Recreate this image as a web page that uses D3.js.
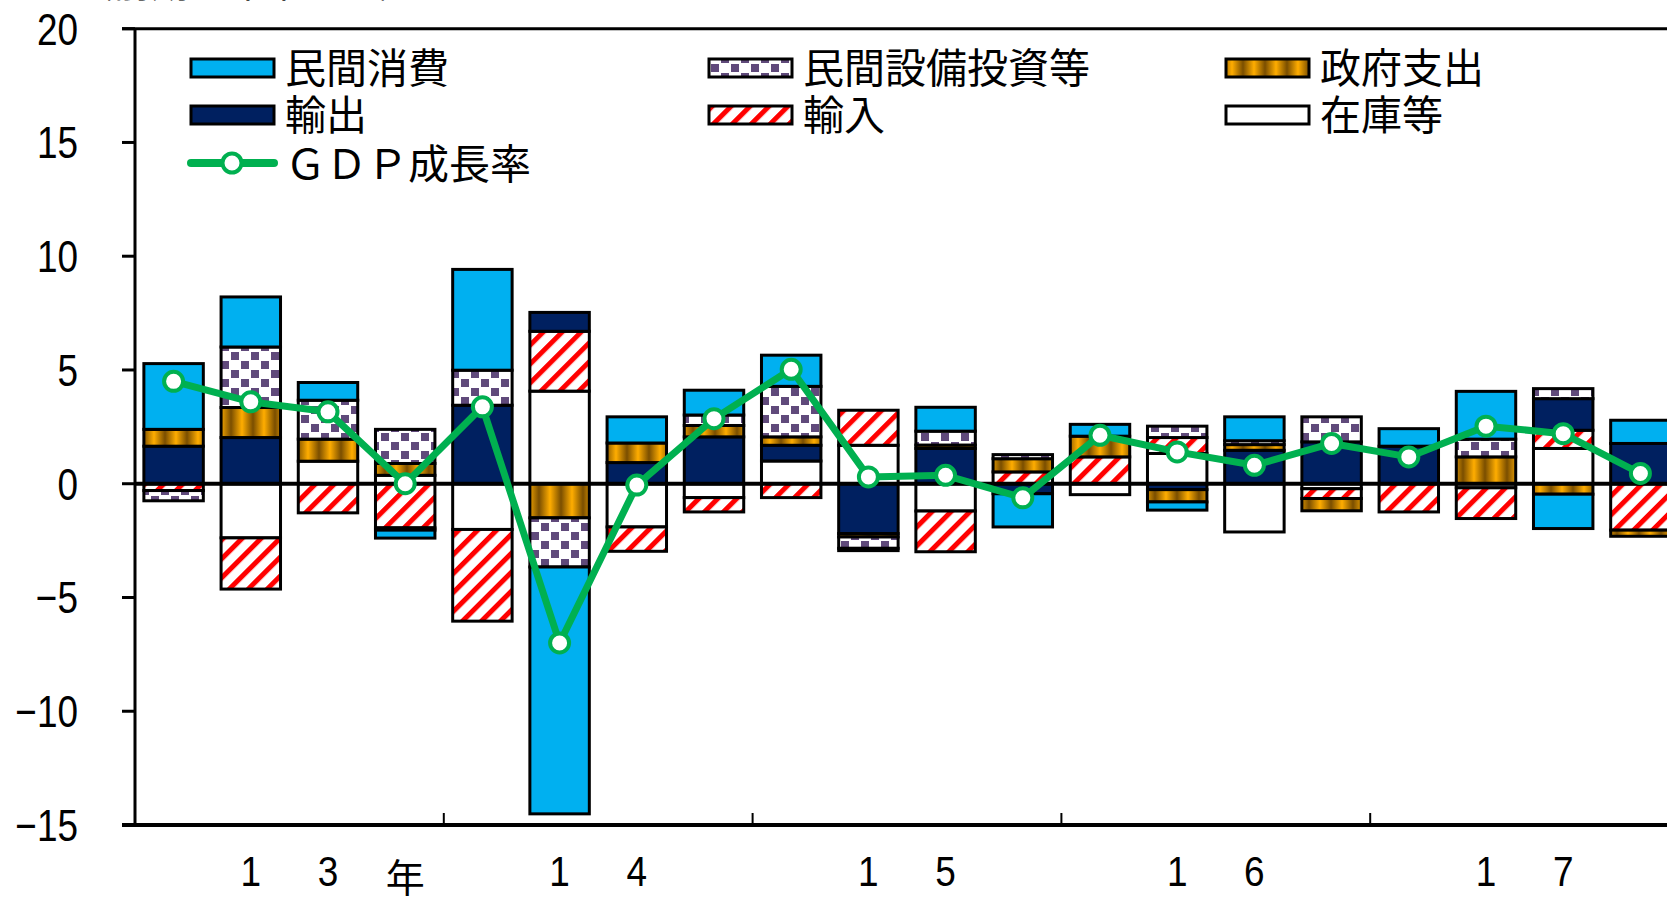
<!DOCTYPE html>
<html>
<head>
<meta charset="utf-8">
<script src="https://cdn.jsdelivr.net/npm/d3@7"></script>
<style>
body { margin: 0; background: #fff; }
svg { display: block; }
</style>
</head>
<body>
<svg></svg>
<script>
// 四半期（2013Q1〜2017Q4）
var quarters = ['13Q1', '13Q2', '13Q3', '13Q4', '14Q1', '14Q2', '14Q3', '14Q4',
    '15Q1', '15Q2', '15Q3', '15Q4', '16Q1', '16Q2', '16Q3', '16Q4',
    '17Q1', '17Q2', '17Q3', '17Q4'];

// 寄与度（％ポイント）
var shohi = [2.89, 2.2, 0.78, -0.35, 4.43, -10.85, 1.15, 1.09, 1.37, -0.1,
    1.05, -1.46, 0.52, -0.36, 1.05, 0, 0.77, 2.1, -1.51, 1.02];
var setsubi = [-0.45, 2.66, 1.71, 1.5, 1.54, -2.16, 0, 0.46, 2.22, -0.5,
    0.61, 0.18, 0, 0.5, 0.17, 1.1, 0, 0.78, 0.44, 0];
var seifu = [0.74, 1.32, 0.97, 0.52, 0, -1.5, 0.86, 0.5, 0.37, -0.15,
    0.15, 0.58, 0.91, -0.54, 0.25, -0.54, 0, 1.18, -0.46, -0.27];
var yushutsu = [1.65, 2.03, 0, -0.1, 3.45, 0.83, 0.93, 2.06, 0.69, -2.19,
    1.55, -0.44, 0, -0.26, 1.47, 1.84, 1.65, 0, 1.39, 1.77];
var yunyu = [-0.3, -2.25, -1.28, -1.94, -4.03, 2.63, -1.07, -0.63, -0.61, 1.54,
    -1.79, 0.52, 1.18, 0.7, 0, -0.43, -1.24, -1.35, 0.8, -2.04];
var zaiko = [0, -2.38, 0.99, 0.37, -2.01, 4.07, -1.9, -0.61, 1.0, 1.69,
    -1.2, 0, -0.48, 1.33, -2.12, -0.22, 0, -0.18, 1.55, 0];
var gdp = [4.5, 3.6, 3.16, 0.0, 3.38, -7.0, -0.06, 2.86, 5.03, 0.3,
    0.37, -0.62, 2.13, 1.4, 0.81, 1.77, 1.18, 2.53, 2.2, 0.45];

var yTicks = [-15, -10, -5, 0, 5, 10, 15, 20];
var yearLabels = [['1', '3', '年'], ['1', '4'], ['1', '5'], ['1', '6'], ['1', '7']];

// 積み上げ順（ゼロ側から）
var keys = ['在庫等', '輸入', '輸出', '政府支出', '民間設備投資等', '民間消費'];
var values = {
    '在庫等': zaiko, '輸入': yunyu, '輸出': yushutsu,
    '政府支出': seifu, '民間設備投資等': setsubi, '民間消費': shohi
};
var fills = {
    '民間消費': '#00B0F0',
    '民間設備投資等': 'url(#pat-dots)',
    '政府支出': 'url(#pat-gold)',
    '輸出': '#002060',
    '輸入': 'url(#pat-red)',
    '在庫等': '#ffffff'
};

var rows = quarters.map(function(q, i) {
    var r = { q: q };
    keys.forEach(function(k) { r[k] = values[k][i]; });
    return r;
});

var w = 1667, h = 900;
var left = 135, step = 77.2;

var svg = d3.select('svg')
    .attr('width', w)
    .attr('height', h);

// パターン
var defs = svg.append('defs');

var dots = defs.append('pattern')
    .attr('id', 'pat-dots')
    .attr('patternUnits', 'userSpaceOnUse')
    .attr('width', 20).attr('height', 18);
dots.append('rect').attr('width', 20).attr('height', 18).attr('fill', '#fff');
dots.append('rect').attr('x', 1).attr('y', 1).attr('width', 8).attr('height', 8).attr('fill', '#604A7B');
dots.append('rect').attr('x', 11).attr('y', 10).attr('width', 8).attr('height', 8).attr('fill', '#604A7B');

var grad = defs.append('linearGradient')
    .attr('id', 'grad-gold')
    .attr('x1', 0).attr('x2', 1).attr('y1', 0).attr('y2', 0);
grad.append('stop').attr('offset', 0).attr('stop-color', '#ffad00');
grad.append('stop').attr('offset', 0.5).attr('stop-color', '#7a4e00');
grad.append('stop').attr('offset', 1).attr('stop-color', '#ffad00');
var gold = defs.append('pattern')
    .attr('id', 'pat-gold')
    .attr('patternUnits', 'userSpaceOnUse')
    .attr('width', 22).attr('height', 10);
gold.append('rect').attr('width', 22).attr('height', 10).attr('fill', 'url(#grad-gold)');

var red = defs.append('pattern')
    .attr('id', 'pat-red')
    .attr('patternUnits', 'userSpaceOnUse')
    .attr('width', 13.4).attr('height', 13.4)
    .attr('patternTransform', 'rotate(45)');
red.append('rect').attr('width', 13.4).attr('height', 13.4).attr('fill', '#fff');
red.append('rect').attr('width', 5).attr('height', 13.4).attr('fill', '#FF0000');

// スケール
var xScale = d3.scaleBand()
    .domain(quarters)
    .range([left, left + step * quarters.length])
    .paddingInner(0.23)
    .paddingOuter(0.115);
var yScale = d3.scaleLinear()
    .domain([-15, 20])
    .range([825, 28.7]);

var stack = d3.stack()
    .keys(keys)
    .offset(d3.stackOffsetDiverging)(rows);

// 棒
svg.append('g').selectAll('g')
    .data(stack)
    .enter()
    .append('g')
    .attr('fill', function(d) { return fills[d.key]; })
    .selectAll('rect')
    .data(function(d) { return d.filter(function(p) { return p[1] - p[0] !== 0; }); })
    .enter()
    .append('rect')
    .attr('x', function(d) { return xScale(d.data.q); })
    .attr('y', function(d) { return yScale(Math.max(d[0], d[1])); })
    .attr('width', xScale.bandwidth())
    .attr('height', function(d) { return Math.abs(yScale(d[0]) - yScale(d[1])); })
    .attr('stroke', '#000')
    .attr('stroke-width', 3);

// 軸
var axis = svg.append('g').attr('stroke', '#000');
axis.append('line')
    .attr('x1', left).attr('x2', w)
    .attr('y1', yScale(0)).attr('y2', yScale(0))
    .attr('stroke-width', 4);
axis.append('line')
    .attr('x1', left).attr('x2', left)
    .attr('y1', yScale(20)).attr('y2', yScale(-15))
    .attr('stroke-width', 3);
axis.append('line')
    .attr('x1', 122).attr('x2', w)
    .attr('y1', yScale(20)).attr('y2', yScale(20))
    .attr('stroke-width', 3);
axis.append('line')
    .attr('x1', 122).attr('x2', w)
    .attr('y1', yScale(-15)).attr('y2', yScale(-15))
    .attr('stroke-width', 4);
axis.selectAll('.ytick')
    .data(yTicks)
    .enter()
    .append('line')
    .attr('x1', 122).attr('x2', left)
    .attr('y1', function(d) { return yScale(d); })
    .attr('y2', function(d) { return yScale(d); })
    .attr('stroke-width', 3);
axis.selectAll('.xtick')
    .data([4, 8, 12, 16])
    .enter()
    .append('line')
    .attr('x1', function(d) { return left + xScale.step() * d; })
    .attr('x2', function(d) { return left + xScale.step() * d; })
    .attr('y1', yScale(-15))
    .attr('y2', yScale(-15) - 12)
    .attr('stroke-width', 2);

svg.append('g').selectAll('text')
    .data(yTicks)
    .enter()
    .append('text')
    .attr('transform', function(d) { return 'translate(78,' + (yScale(d) + 16) + ') scale(0.84,1)'; })
    .attr('text-anchor', 'end')
    .attr('font-family', 'Liberation Sans, Arial, sans-serif')
    .attr('font-size', 44)
    .text(function(d) { return d < 0 ? '\u2212' + Math.abs(d) : d; });

// 年ラベル
var xl = [];
yearLabels.forEach(function(chars, i) {
    chars.forEach(function(c, j) {
        xl.push({ c: c, q: quarters[i * 4 + 1 + j] });
    });
});
svg.append('g').selectAll('text')
    .data(xl)
    .enter()
    .append('text')
    .attr('transform', function(d) {
        var cx = xScale(d.q) + xScale.bandwidth() / 2;
        return d.c === '年' ? 'translate(' + cx + ',892)' : 'translate(' + cx + ',886) scale(0.88,1)';
    })
    .attr('text-anchor', 'middle')
    .attr('font-family', function(d) {
        return d.c === '年' ? 'Noto Sans CJK JP, sans-serif' : 'Liberation Sans, Arial, sans-serif';
    })
    .attr('font-size', function(d) { return d.c === '年' ? 39 : 42; })
    .text(function(d) { return d.c; });

// GDP成長率
var line = d3.line()
    .x(function(d, i) { return xScale(quarters[i]) + xScale.bandwidth() / 2; })
    .y(function(d) { return yScale(d); });
svg.append('path')
    .datum(gdp)
    .attr('d', line)
    .attr('fill', 'none')
    .attr('stroke', '#00B050')
    .attr('stroke-width', 7)
    .attr('stroke-linejoin', 'round');
svg.append('g').selectAll('circle')
    .data(gdp)
    .enter()
    .append('circle')
    .attr('cx', function(d, i) { return xScale(quarters[i]) + xScale.bandwidth() / 2; })
    .attr('cy', function(d) { return yScale(d); })
    .attr('r', 9.5)
    .attr('fill', '#fff')
    .attr('stroke', '#00B050')
    .attr('stroke-width', 4);

// 凡例
var legendItems = [
    { name: '民間消費', x: 191, y: 68 },
    { name: '民間設備投資等', x: 709, y: 68 },
    { name: '政府支出', x: 1226, y: 68 },
    { name: '輸出', x: 191, y: 115 },
    { name: '輸入', x: 709, y: 115 },
    { name: '在庫等', x: 1226, y: 115 }
];
var legend = svg.append('g');
legend.selectAll('rect')
    .data(legendItems)
    .enter()
    .append('rect')
    .attr('x', function(d) { return d.x; })
    .attr('y', function(d) { return d.y - 9; })
    .attr('width', 83)
    .attr('height', 18)
    .attr('fill', function(d) { return fills[d.name]; })
    .attr('stroke', '#000')
    .attr('stroke-width', 3);
legend.selectAll('text')
    .data(legendItems)
    .enter()
    .append('text')
    .attr('x', function(d) { return d.x + 94; })
    .attr('y', function(d) { return d.y - 3; })
    .attr('dominant-baseline', 'central')
    .attr('font-family', 'Noto Sans CJK JP, sans-serif')
    .attr('font-size', 41)
    .text(function(d) { return d.name; });

legend.append('line')
    .attr('x1', 191).attr('x2', 274)
    .attr('y1', 163).attr('y2', 163)
    .attr('stroke', '#00B050')
    .attr('stroke-width', 8)
    .attr('stroke-linecap', 'round');
legend.append('circle')
    .attr('cx', 232).attr('cy', 163)
    .attr('r', 9.5)
    .attr('fill', '#fff')
    .attr('stroke', '#00B050')
    .attr('stroke-width', 4);
legend.append('text')
    .attr('x', 285)
    .attr('y', 161)
    .attr('dominant-baseline', 'central')
    .attr('font-family', 'Noto Sans CJK JP, sans-serif')
    .attr('font-size', 41)
    .text('ＧＤＰ成長率');

// 単位（上端で切れている）
svg.append('text')
    .attr('x', 75)
    .attr('y', -3)
    .attr('font-family', 'Noto Sans CJK JP, sans-serif')
    .attr('font-size', 38)
    .attr('fill', '#444')
    .text('（前期比年率、％）');
</script>
</body>
</html>
